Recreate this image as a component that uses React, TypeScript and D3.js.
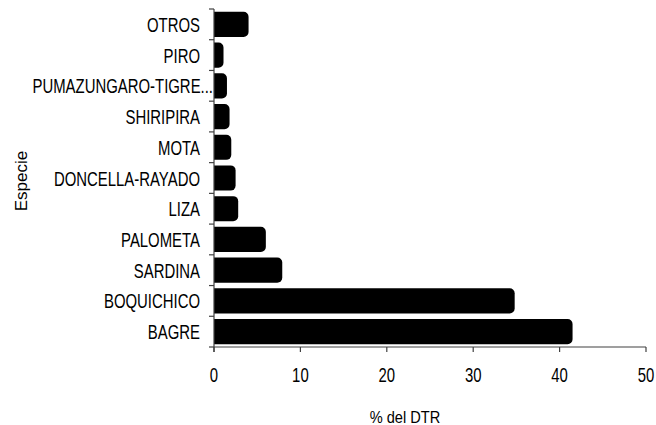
import * as d3 from "d3";

const categories = [
  "OTROS",
  "PIRO",
  "PUMAZUNGARO-TIGRE...",
  "SHIRIPIRA",
  "MOTA",
  "DONCELLA-RAYADO",
  "LIZA",
  "PALOMETA",
  "SARDINA",
  "BOQUICHICO",
  "BAGRE",
];
const values = [4.0, 1.1, 1.5, 1.8, 2.0, 2.5, 2.8, 6.0, 7.9, 34.8, 41.5];
const xTicks = [0, 10, 20, 30, 40, 50];
const xTitle = "% del DTR";
const yTitle = "Especie";

const W = 656;
const H = 425;
const font = "'Liberation Sans', Arial, sans-serif";
const axisColor = "#404040";

function barPath(x0: number, x1: number, y0: number, h: number, r: number) {
  const rr = Math.min(r, (x1 - x0), h / 2);
  const p = d3.path();
  p.moveTo(x0, y0);
  p.lineTo(x1 - rr, y0);
  p.arcTo(x1, y0, x1, y0 + rr, rr);
  p.lineTo(x1, y0 + h - rr);
  p.arcTo(x1, y0 + h, x1 - rr, y0 + h, rr);
  p.lineTo(x0, y0 + h);
  p.closePath();
  return p.toString();
}

export default function App() {
  const x = d3.scaleLinear().domain([0, 50]).range([214, 646]);
  const y = d3
    .scaleBand<string>()
    .domain(categories)
    .range([9, 347])
    .paddingInner(0.18)
    .paddingOuter(0.09);
  const step = y.step();
  const [yTop, yBot] = y.range();
  const bandTicks = d3.range(categories.length + 1).map((i) => yTop + i * step);

  return (
    <svg
      width={W}
      height={H}
      style={{ position: "absolute", left: 0, top: 0, background: "#fff" }}
      fontFamily={font}
    >
      {categories.map((c, i) => (
        <path
          key={c}
          d={barPath(x(0), x(values[i]), y(c)!, y.bandwidth(), 5)}
          fill="#000"
        />
      ))}

      {/* y axis */}
      <line x1={x(0)} x2={x(0)} y1={yTop} y2={yBot + 5} stroke={axisColor} strokeWidth={1.2} />
      {bandTicks.map((t, i) => (
        <line key={i} x1={x(0) - 5} x2={x(0)} y1={t} y2={t} stroke={axisColor} strokeWidth={1.2} />
      ))}
      {categories.map((c) => {
        const cy = y(c)! + y.bandwidth() / 2;
        const ell = c.endsWith("...");
        return (
          <text
            key={c}
            transform={`translate(${ell ? 213 : 200},${cy + 7.5}) scale(0.71,1)`}
            textAnchor="end"
            fontSize={21}
            fill="#000"
          >
            {c}
          </text>
        );
      })}

      {/* x axis */}
      <line x1={x(0)} x2={x(50)} y1={yBot} y2={yBot} stroke={axisColor} strokeWidth={1.2} />
      {xTicks.map((t) => (
        <g key={t}>
          <line x1={x(t)} x2={x(t)} y1={yBot} y2={yBot + 5} stroke={axisColor} strokeWidth={1.2} />
          <text
            transform={`translate(${x(t)},382) scale(0.71,1)`}
            textAnchor="middle"
            fontSize={21}
            fill="#000"
          >
            {t}
          </text>
        </g>
      ))}

      <text transform="translate(405,423) scale(0.86,1)" textAnchor="middle" fontSize={17} fill="#000">
        {xTitle}
      </text>
      <text transform="translate(27,181) rotate(-90)" textAnchor="middle" fontSize={17} fill="#000">
        {yTitle}
      </text>
    </svg>
  );
}
